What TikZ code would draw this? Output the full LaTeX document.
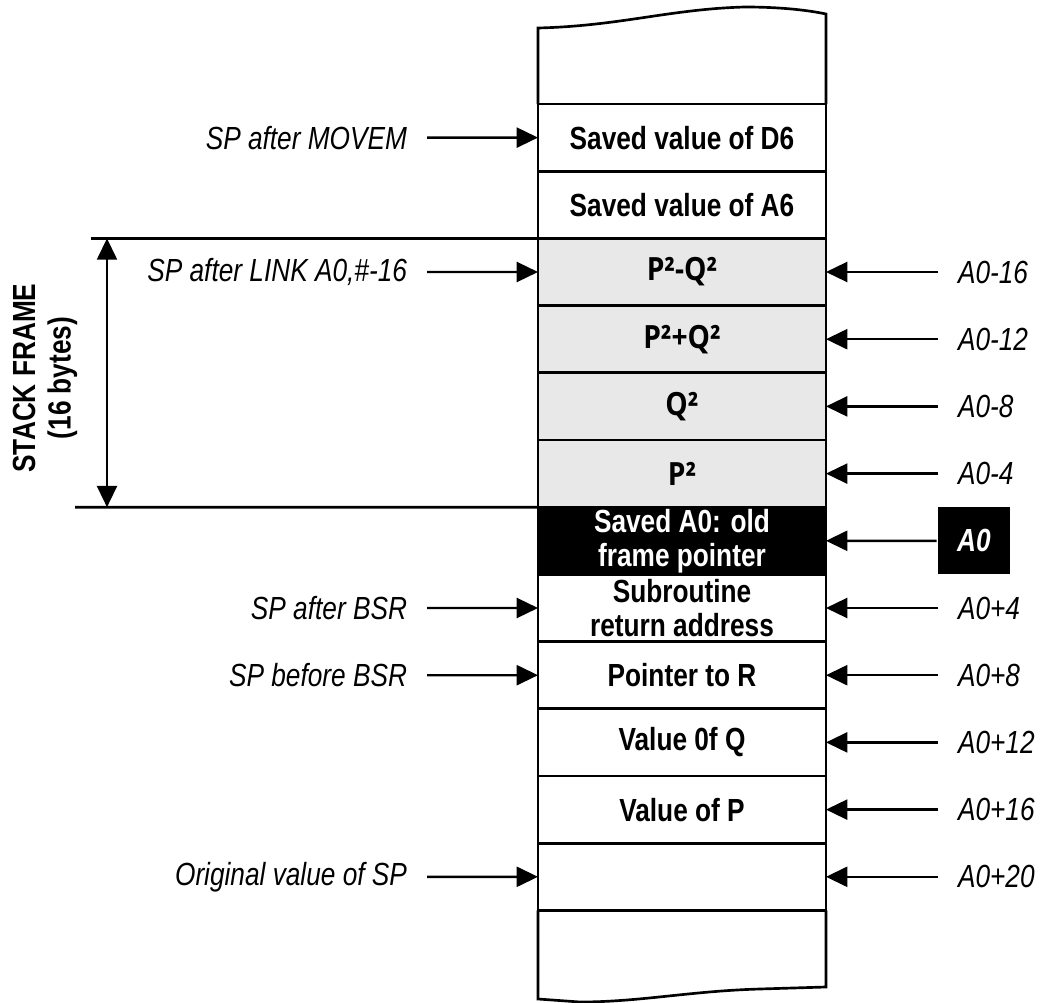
\documentclass[tikz,border=0pt]{standalone}
\usepackage{fontspec}
\setmainfont{Liberation Sans}[FakeStretch=0.82]
\newfontfamily\sqfont{Open Sans}[FakeStretch=0.88]
\usetikzlibrary{arrows.meta}
\definecolor{framegrey}{gray}{0.91}
\newcommand\stacksize{\fontsize{24}{25.5}\selectfont}
\tikzset{
  cell/.style={draw,minimum width=216pt,minimum height=50.4pt,inner sep=0pt,outer sep=0pt,align=center,font=\stacksize\bfseries},
  greycell/.style={cell,fill=framegrey,font=\stacksize\sqfont\bfseries},
  fpcell/.style={cell,fill=black,text=white},
  lbl/.style={inner xsep=14pt,inner ysep=0pt,font=\stacksize\itshape},
  ptr/.style={line width=1.8pt,-{Triangle[length=16pt,width=15pt]}},
  dptr/.style={line width=1.8pt,{Triangle[length=16pt,width=15pt]}-{Triangle[length=16pt,width=15pt]}}
}
\begin{document}
\begin{tikzpicture}[x=.75pt,y=-.75pt,line width=2pt]
\useasboundingbox (0,0) rectangle (1040,1003);
\foreach \i/\sty/\txt in {1/cell/{Saved value of D6},2/cell/{Saved value of A6},
    3/greycell/{P²-Q²},4/greycell/{P²+Q²},5/greycell/{Q²},6/greycell/{P²},
    7/fpcell/{Saved A0: old\\frame pointer},8/cell/{Subroutine\\return address},
    9/cell/{Pointer to R},10/cell/{Value 0f Q},11/cell/{Value of P},12/cell/{}}
  \node[\sty] (r\i) at (682,{104+67.2*(\i-.5)}) {\txt};
\draw (r1.north west) -- (538,28) .. controls (620,26) and (670,9) .. (745,7) .. controls (785,7) and (812,11) .. (826,14) -- (r1.north east);
\draw (r12.south west) -- (538,999) -- (580,1002) .. controls (640,1002) and (690,991) .. (760,989) -- (826,987) -- (r12.south east);
\node[lbl,anchor=east] (movem) at (427,137.6) {SP after MOVEM};
\node[lbl,anchor=east] (link) at (427,272) {SP after LINK A0,\#-16};
\node[lbl,anchor=east] (bsr) at (427,608) {SP after BSR};
\node[lbl,anchor=east] (prebsr) at (427,675.2) {SP before BSR};
\node[lbl,anchor=east] (orig) at (427,876.8) {Original value of SP};
\draw[ptr] (movem.east) -- (r1.west);
\draw[ptr] (link.east) -- (r3.west);
\draw[ptr] (bsr.east) -- (r8.west);
\draw[ptr] (prebsr.east) -- (r9.west);
\draw[ptr] (orig.east) -- (r12.west);
\foreach \i/\txt in {3/A0-16,4/A0-12,5/A0-8,6/A0-4,8/A0+4,9/A0+8,10/A0+12,11/A0+16,12/A0+20}{
  \node[lbl,anchor=west] (off\i) at (938,{104+67.2*(\i-.5)}) {\txt};
  \draw[ptr] (off\i.west) -- (r\i.east);
}
\node[fill=black,text=white,minimum width=54pt,minimum height=50.4pt,inner sep=0pt,font=\stacksize\bfseries\itshape] (fp) at (974,540.8) {A0};
\draw[ptr] (fp.west) -- (r7.east);
\coordinate (ftop) at (91,238.4);
\coordinate (fbot) at (75,507.2);
\coordinate (dtop) at (107,238.4);
\coordinate (dbot) at (107,507.2);
\draw (ftop) -- (r3.north west);
\draw (fbot) -- (r6.south west);
\draw[dptr] (dtop) -- (dbot);
\node[rotate=90,align=center,font=\stacksize\bfseries] (frame) at (45,378) {STACK FRAME\\[1pt](16 bytes)};
\end{tikzpicture}
\end{document}
